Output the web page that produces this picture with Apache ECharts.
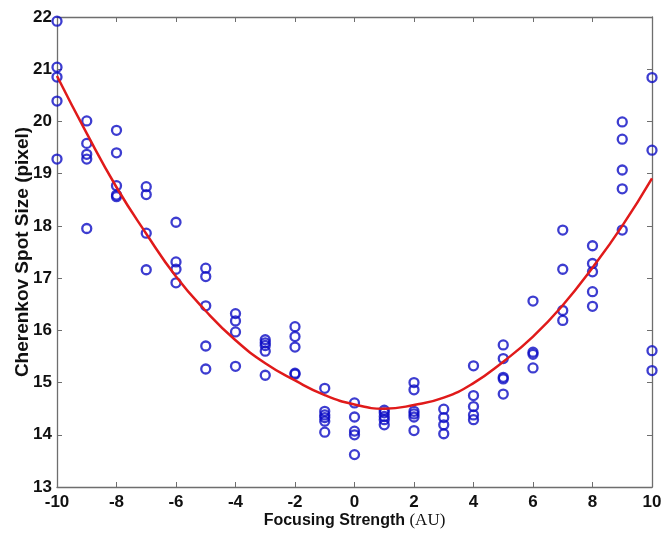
<!DOCTYPE html>
<html><head><meta charset="utf-8">
<script src="https://cdn.jsdelivr.net/npm/echarts@6/dist/echarts.min.js"></script>
<style>html,body{margin:0;padding:0;background:#fff}#c{width:665px;height:538px}</style>
</head><body><div id="c"></div>
<script>
// focusing strength (x) and measured spot sizes (y)
const measX = [
  -10,-10,-10,-10,-10,
  -9,-9,-9,-9,-9,
  -8,-8,-8,-8,-8,
  -7,-7,-7,-7,
  -6,-6,-6,-6,
  -5,-5,-5,-5,-5,
  -4,-4,-4,-4,
  -3,-3,-3,-3,-3,
  -2,-2,-2,-2,-2,
  -1,-1,-1,-1,-1,-1,
  0,0,0,0,0,
  1,1,1,1,1,
  2,2,2,2,2,2,
  3,3,3,3,
  4,4,4,4,4,
  5,5,5,5,5,
  6,6,6,6,
  7,7,7,7,
  8,8,8,8,8,
  9,9,9,9,9,
  10,10,10,10
];
const measY = [
  21.92,21.04,20.85,20.39,19.28,
  20.01,19.58,19.37,19.28,17.95,
  19.83,19.40,18.77,18.59,18.56,
  18.75,18.60,17.86,17.16,
  18.07,17.31,17.17,16.91,
  17.19,17.03,16.47,15.70,15.26,
  16.32,16.18,15.97,15.31,
  15.82,15.76,15.71,15.60,15.14,
  16.07,15.88,15.68,15.18,15.16,
  14.89,14.45,14.38,14.33,14.26,14.05,
  14.61,14.34,14.07,14.00,13.62,
  14.47,14.42,14.35,14.29,14.19,
  15.00,14.86,14.45,14.40,14.34,14.08,
  14.49,14.33,14.19,14.02,
  15.32,14.75,14.54,14.38,14.29,
  15.72,15.46,15.10,15.07,14.78,
  16.56,15.58,15.54,15.28,
  17.92,17.17,16.38,16.19,
  17.62,17.28,17.12,16.74,16.46,
  19.99,19.66,19.07,18.71,17.92,
  20.84,19.45,15.61,15.23
];
// fitted curve
const fitX = [-10,-9,-8,-7,-6,-5,-4,-3,-2,-1,0,1,2,3,4,5,6,7,8,9,10];
const fitY = [20.87,19.77,18.74,17.85,17.03,16.37,15.81,15.37,15.04,14.76,14.58,14.50,14.57,14.71,14.99,15.40,15.88,16.48,17.20,18.00,18.91];
const xTicks = [-10,-8,-6,-4,-2,0,2,4,6,8,10];
const yTicks = [13,14,15,16,17,18,19,20,21,22];

const scatterData = measX.map((x,i)=>[x, measY[i]]);
const fitData = fitX.map((x,i)=>[x, fitY[i]]);

const axisCol = '#6e6e6e';
const lblFont = {fontFamily:'Liberation Sans, Arial', fontWeight:'bold', fontSize:17, color:'#111'};
function baseX(show){return {
  type:'value', min:xTicks[0], max:xTicks[xTicks.length-1], interval:2,
  position: show?'bottom':'top',
  axisLine:{show:true, onZero:false, lineStyle:{color:axisCol, width:1.3}},
  axisTick:{show:true, inside:true, length:5, lineStyle:{color:axisCol}},
  axisLabel:Object.assign({show:show, margin:7}, lblFont),
  splitLine:{show:false}
};}
function baseY(show){return {
  type:'value', min:yTicks[0], max:yTicks[yTicks.length-1], interval:1,
  position: show?'left':'right',
  axisLine:{show:true, onZero:false, lineStyle:{color:axisCol, width:1.3}},
  axisTick:{show:true, inside:true, length:5, lineStyle:{color:axisCol}},
  axisLabel:Object.assign({show:show, margin:5}, lblFont),
  splitLine:{show:false}
};}
const xa = baseX(true);
xa.name = '{a|Focusing Strength }{b|(AU)}';
xa.nameLocation = 'middle';
xa.nameGap = 25;
xa.nameMoveOverlap = false;
xa.nameTextStyle = {rich:{
  a:{fontFamily:'Liberation Sans, Arial', fontWeight:'bold', fontSize:16, color:'#111'},
  b:{fontFamily:'Liberation Serif, Times New Roman, serif', fontSize:17, color:'#111'}
}};
const ya = baseY(true);
ya.name = 'Cherenkov Spot Size (pixel)';
ya.nameLocation = 'middle';
ya.nameGap = 25;
ya.nameMoveOverlap = false;
ya.nameTextStyle = {fontFamily:'Liberation Sans, Arial', fontWeight:'bold', fontSize:19, color:'#111'};

const chart = echarts.init(document.getElementById('c'), null, {renderer:'canvas'});
chart.setOption({
  animation:false,
  backgroundColor:'#fff',
  grid:{left:57, right:13, top:17, bottom:51, containLabel:false, outerBoundsMode:'none'},
  xAxis:[xa, baseX(false)],
  yAxis:[ya, baseY(false)],
  series:[
    {type:'scatter', data:scatterData, symbol:'circle', symbolSize:9,
     itemStyle:{color:'rgba(255,255,255,0)', borderColor:'#0c0cc4', borderWidth:2.3}, z:3},
    {type:'line', data:fitData, smooth:true, symbol:'none',
     lineStyle:{color:'#e01a1a', width:2.5}, z:4}
  ]
});
</script></body></html>
